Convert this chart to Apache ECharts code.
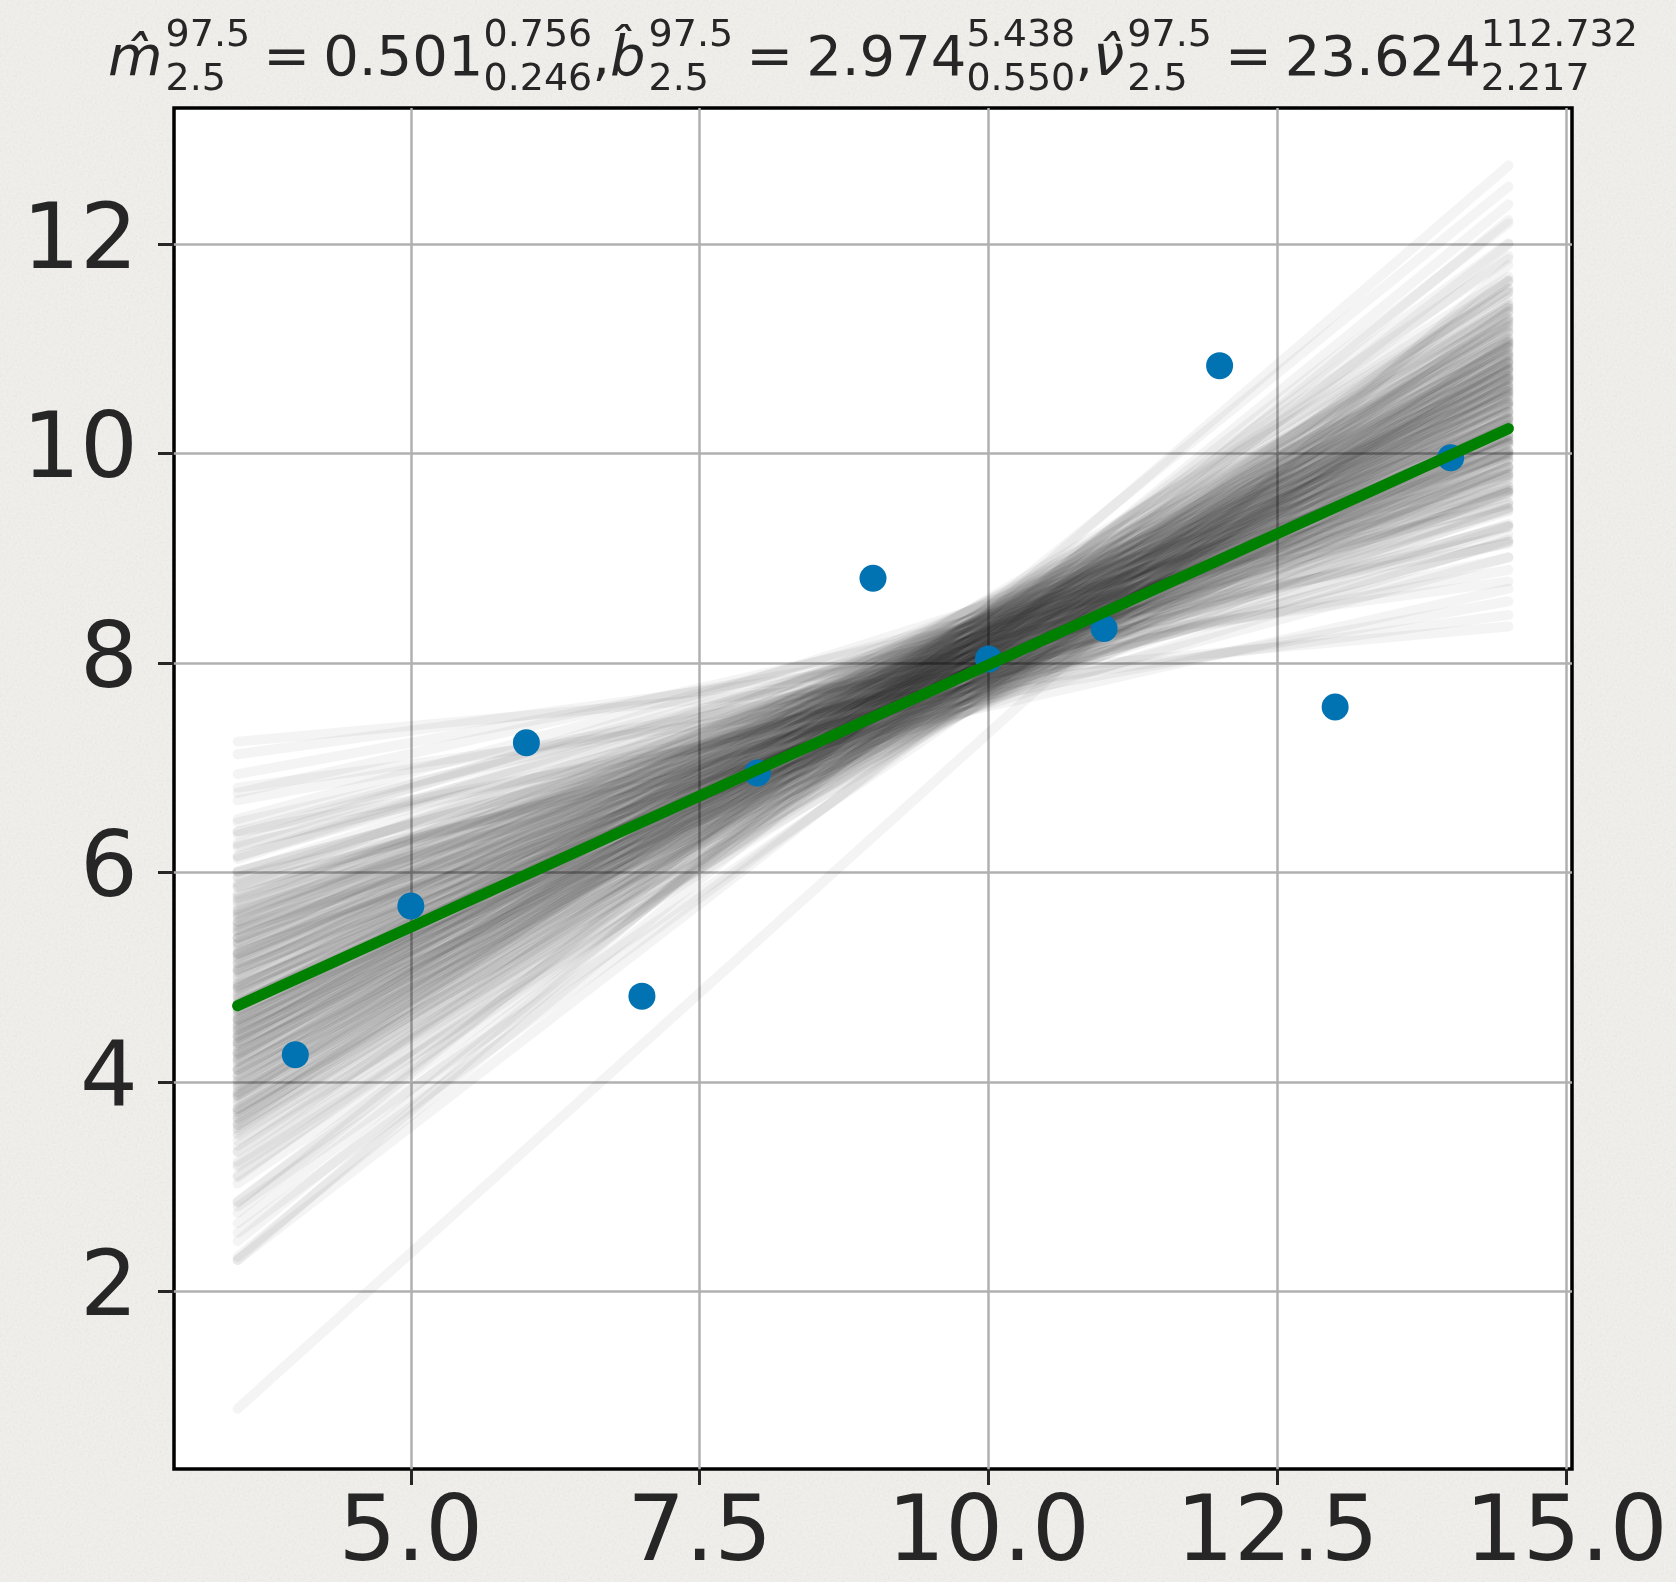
<!DOCTYPE html>
<html>
<head>
<meta charset="utf-8">
<script src="https://cdn.jsdelivr.net/npm/echarts@6/dist/echarts.min.js"></script>
<style>
  html, body { margin: 0; padding: 0; }
  body {
    background-color: #f1f0ec;
    background-image: url("data:image/svg+xml;utf8,<svg xmlns='http://www.w3.org/2000/svg' width='320' height='320'><filter id='n'><feTurbulence type='fractalNoise' baseFrequency='0.45' numOctaves='4' stitchTiles='stitch'/><feColorMatrix type='saturate' values='0'/></filter><rect width='100%' height='100%' filter='url(%23n)' opacity='0.13'/></svg>");
  }
  #chart { width: 1676px; height: 1582px; }
</style>
</head>
<body>
<div id="chart"></div>
<script>
// Observations (Anscombe set I)
const obsX = [10, 8, 13, 9, 11, 14, 6, 4, 12, 7, 5];
const obsY = [8.04, 6.95, 7.58, 8.81, 8.33, 9.96, 7.24, 4.26, 10.84, 4.82, 5.68];

// Posterior summaries: estimate with 2.5 / 97.5 percentile bounds
const paramSymbols = ['m', 'b', '\u03bd'];
const paramEstimate = ['0.501', '2.974', '23.624'];
const paramLower = ['0.246', '0.550', '2.217'];
const paramUpper = ['0.756', '5.438', '112.732'];
const pctLow = '2.5';
const pctHigh = '97.5';

// Posterior sample lines, given as y at the two ends of the x span
const sampleX = [3.5, 14.5];
const sampleEnds = [
  [7.25, 8.35],
  [6.81, 8.46], [7.13, 8.78],
  [6.69, 8.89], [6.39, 8.59], [6.94, 9.14],
  [6.26, 9.01], [6.76, 9.51], [5.96, 8.71], [6.48, 9.23],
  [5.86, 9.16], [6.24, 9.54], [6.01, 9.31], [6.36, 9.66], [5.71, 9.01],
  [5.80, 9.65], [5.75, 9.60], [5.45, 9.30], [6.00, 9.85], [5.63, 9.48], [6.13, 9.98], [5.33, 9.18],
  [5.53, 9.93], [5.23, 9.63], [5.61, 10.01], [5.38, 9.78], [5.73, 10.13], [5.08, 9.48], [5.48, 9.88], [5.43, 9.83], [5.13, 9.53],
  [5.37, 10.32], [5.00, 9.95], [5.50, 10.45], [4.70, 9.65], [5.22, 10.17], [4.92, 9.87], [5.30, 10.25], [5.07, 10.02], [5.42, 10.37], [4.77, 9.72], [5.17, 10.12],
  [4.80, 10.30], [4.50, 10.00], [5.05, 10.55], [4.68, 10.18], [5.18, 10.68], [4.38, 9.88], [4.90, 10.40], [4.60, 10.10], [4.98, 10.48], [4.75, 10.25], [5.10, 10.60], [4.45, 9.95],
  [4.54, 10.59], [4.49, 10.54], [4.19, 10.24], [4.74, 10.79], [4.37, 10.42], [4.87, 10.92], [4.07, 10.12], [4.59, 10.64], [4.29, 10.34], [4.67, 10.72], [4.44, 10.49], [4.79, 10.84], [4.14, 10.19],
  [4.22, 10.82], [4.17, 10.77], [3.87, 10.47], [4.42, 11.02], [4.05, 10.65], [4.55, 11.15], [3.75, 10.35], [4.27, 10.87], [3.97, 10.57], [4.35, 10.95], [4.12, 10.72], [4.47, 11.07],
  [3.51, 10.66], [3.91, 11.06], [3.86, 11.01], [3.56, 10.71], [4.11, 11.26], [3.74, 10.89], [4.24, 11.39], [3.44, 10.59], [3.96, 11.11], [3.66, 10.81],
  [3.72, 11.42], [3.49, 11.19], [3.84, 11.54], [3.19, 10.89], [3.59, 11.29], [3.54, 11.24], [3.24, 10.94], [3.79, 11.49],
  [3.11, 11.36], [3.61, 11.86], [2.81, 11.06], [3.33, 11.58], [3.03, 11.28],
  [3.09, 11.89], [2.86, 11.66], [3.21, 12.01], [2.56, 11.36],
  [2.65, 12.00], [2.85, 12.20], [2.30, 11.65],
  [2.48, 12.38], [2.33, 12.23],
  [2.30, 12.75], [2.75, 12.55],
  [0.88, 11.80],
  // denser core, sitting slightly higher
  [6.01, 9.31], [6.39, 9.69], [6.16, 9.46], [6.51, 9.81], [5.86, 9.16],
  [5.95, 9.80], [5.90, 9.75], [5.60, 9.45], [6.15, 10.00], [5.78, 9.63], [6.28, 10.13], [5.48, 9.33],
  [5.68, 10.08], [5.38, 9.78], [5.76, 10.16], [5.53, 9.93], [5.88, 10.28], [5.23, 9.63], [5.63, 10.03], [5.58, 9.98], [5.28, 9.68],
  [5.52, 10.47], [5.15, 10.10], [5.65, 10.60], [4.85, 9.80], [5.37, 10.32], [5.07, 10.02], [5.45, 10.40], [5.22, 10.17], [5.57, 10.52], [4.92, 9.87], [5.32, 10.27],
  [4.95, 10.45], [4.65, 10.15], [5.20, 10.70], [4.83, 10.33], [5.33, 10.83], [4.53, 10.03], [5.05, 10.55], [4.75, 10.25], [5.13, 10.63], [4.90, 10.40], [5.25, 10.75], [4.60, 10.10],
  [4.69, 10.74], [4.64, 10.69], [4.34, 10.39], [4.89, 10.94], [4.52, 10.57], [5.02, 11.07], [4.22, 10.27], [4.74, 10.79], [4.44, 10.49], [4.82, 10.87], [4.59, 10.64], [4.94, 10.99], [4.29, 10.34],
  [4.37, 10.97], [4.32, 10.92], [4.02, 10.62], [4.57, 11.17], [4.20, 10.80], [4.70, 11.30], [3.90, 10.50], [4.42, 11.02], [4.12, 10.72], [4.50, 11.10], [4.27, 10.87], [4.62, 11.22],
  [3.66, 10.81], [4.06, 11.21], [4.01, 11.16], [3.71, 10.86], [4.26, 11.41], [3.89, 11.04], [4.39, 11.54], [3.59, 10.74], [4.11, 11.26], [3.81, 10.96],
  [3.87, 11.57], [3.64, 11.34], [3.99, 11.69], [3.34, 11.04], [3.74, 11.44], [3.69, 11.39], [3.39, 11.09], [3.94, 11.64]
];

// Axis ticks
const xTicks = [5, 7.5, 10, 12.5, 15];
const yTicks = [2, 4, 6, 8, 10, 12];

const FONT = '"DejaVu Sans", sans-serif';
const INK = '#262626';
const PLOT = { left: 174, top: 108, width: 1398, height: 1362 };

// Title: each symbol with stacked percentile scripts, laid out left to right
function buildTitle() {
  const ctx = document.createElement('canvas').getContext('2d');
  const BIG = 56, SMALL = 38;
  const baseLine = 80, supLine = 49.5, subLine = 93;
  const measure = (t, size, italic) => {
    ctx.font = (italic ? 'italic ' : '') + size + 'px ' + FONT;
    return ctx.measureText(t).width;
  };
  const items = [];
  let x = 0;
  const put = (text, size, italic, baseline) => {
    items.push({ text, size, italic, x, baseline });
    return measure(text, size, italic);
  };
  const scripts = (hi, lo) => {
    const w1 = put(hi, SMALL, false, supLine);
    const w2 = put(lo, SMALL, false, subLine);
    return Math.max(w1, w2);
  };
  paramSymbols.forEach((sym, i) => {
    if (i > 0) x += put(',', BIG, false, baseLine);
    x += put(sym + '\u0302', BIG, true, baseLine);
    x += 3;
    x += scripts(pctHigh, pctLow);
    x += 13;
    x += put('=', BIG, false, baseLine);
    x += 13;
    x += put(paramEstimate[i], BIG, false, baseLine);
    x += scripts(paramUpper[i], paramLower[i]);
  });
  const x0 = PLOT.left + PLOT.width / 2 - x / 2;
  return items.map(it => ({
    type: 'text',
    x: x0 + it.x,
    y: it.baseline - 0.346 * it.size,
    silent: true,
    style: {
      text: it.text,
      fontSize: it.size,
      fontFamily: FONT,
      fontStyle: it.italic ? 'italic' : 'normal',
      fill: INK,
      align: 'left',
      verticalAlign: 'middle'
    }
  }));
}

const slope = parseFloat(paramEstimate[0]);
const intercept = parseFloat(paramEstimate[1]);

const axisCommon = {
  type: 'value',
  axisLine: { show: false },
  splitLine: { show: true, lineStyle: { color: '#b0b0b0', width: 2.5 } }
};

const chart = echarts.init(document.getElementById('chart'), null, { renderer: 'canvas' });
chart.setOption({
  backgroundColor: 'transparent',
  animation: false,
  grid: Object.assign({ show: true, backgroundColor: '#ffffff', borderColor: '#000000', borderWidth: 3.5 }, PLOT),
  xAxis: Object.assign({}, axisCommon, {
    min: 2.95,
    max: 15.05,
    axisTick: { show: true, customValues: xTicks, length: 16, lineStyle: { color: INK, width: 3 } },
    axisLabel: {
      customValues: xTicks,
      formatter: v => v.toFixed(1),
      fontSize: 91, fontFamily: FONT, color: INK, margin: 22
    }
  }),
  yAxis: Object.assign({}, axisCommon, {
    min: 0.305,
    max: 13.30,
    axisTick: { show: true, customValues: yTicks, length: 16, lineStyle: { color: INK, width: 3 } },
    axisLabel: {
      customValues: yTicks,
      formatter: v => String(v),
      fontSize: 91, fontFamily: FONT, color: INK, margin: 36
    }
  }),
  series: [
    {
      type: 'lines',
      coordinateSystem: 'cartesian2d',
      polyline: false,
      data: sampleEnds.map(([l, r]) => ({ coords: [[sampleX[0], l], [sampleX[1], r]] })),
      lineStyle: { color: '#000000', opacity: 0.042, width: 10, cap: 'round', curveness: 0 },
      z: 2,
      silent: true
    },
    {
      type: 'scatter',
      data: obsX.map((x, i) => [x, obsY[i]]),
      symbolSize: 27,
      itemStyle: { color: '#0173b2', opacity: 1 },
      z: 3,
      silent: true
    },
    {
      type: 'line',
      data: sampleX.map(x => [x, slope * x + intercept]),
      symbol: 'none',
      lineStyle: { color: '#008000', width: 11, cap: 'round' },
      z: 4,
      silent: true
    }
  ],
  graphic: buildTitle()
});
</script>
</body>
</html>
